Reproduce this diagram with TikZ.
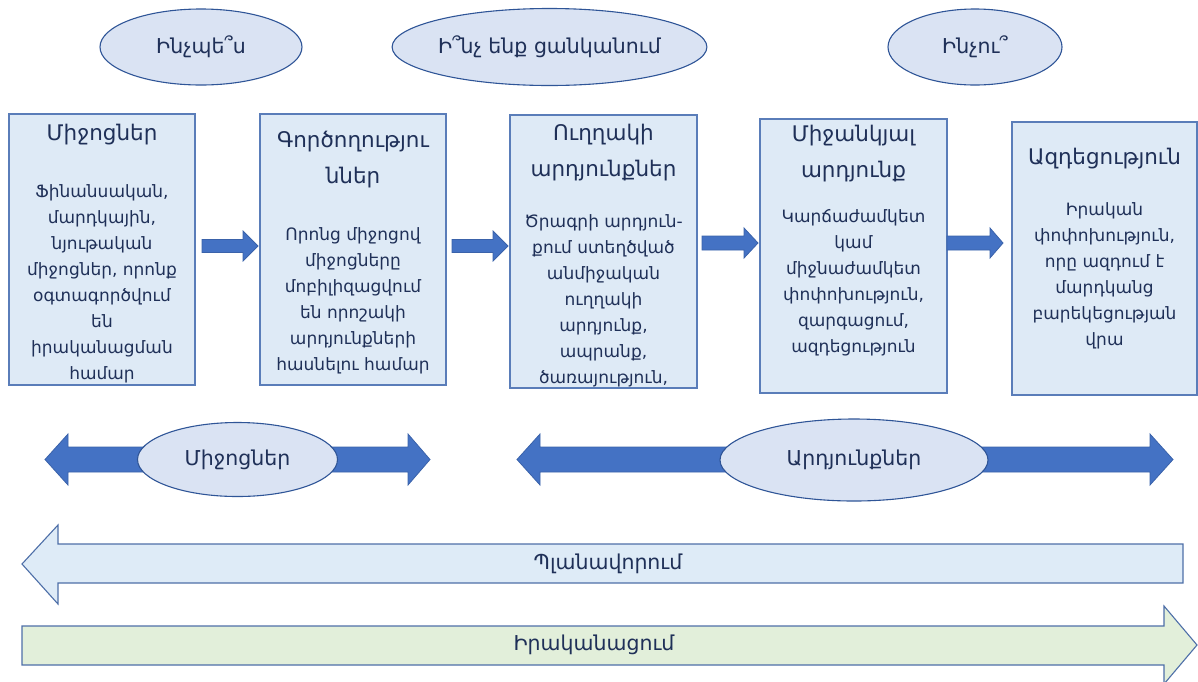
\documentclass[tikz,border=0pt]{standalone}
\usepackage{fontspec}
\setmainfont{DejaVu Sans}
\usetikzlibrary{shapes.geometric,calc}

\definecolor{boxfill}{HTML}{DEEAF6}
\definecolor{boxline}{HTML}{5A7DB9}
\definecolor{ellfill}{HTML}{DAE3F3}
\definecolor{ellline}{HTML}{2F5597}
\definecolor{arrfill}{HTML}{4472C4}
\definecolor{arrline}{HTML}{3A62AA}
\definecolor{planfill}{HTML}{DEEBF7}
\definecolor{realfill}{HTML}{E2EFDA}
\definecolor{bigline}{HTML}{4E6FA8}
\definecolor{txt}{HTML}{1F3058}

\tikzset{
  ovalnode/.style={ellipse, draw=ellline, line width=1.1pt, fill=ellfill,
    inner sep=0pt, text=txt, font=\fontsize{20.5}{24}\selectfont},
  stepbox/.style={rectangle, draw=boxline, line width=1.4pt, fill=boxfill, inner sep=0pt},
  boxtitle/.style={align=center, inner sep=0pt, text=txt, font=\fontsize{21.5}{36}\selectfont},
  boxbody/.style={align=center, inner sep=0pt, text=txt, font=\fontsize{17}{26}\selectfont},
  blockarrow/.style={fill=arrfill, draw=arrline, line width=0.8pt, line join=miter},
  bigarrow/.style={draw=bigline, line width=1.1pt, line join=miter},
  biglabel/.style={inner sep=0pt, text=txt, font=\fontsize{20.5}{24}\selectfont}
}

\begin{document}
\begin{tikzpicture}[x=1pt, y=-1pt]
\useasboundingbox (0,0) rectangle (1198,681);

% questions on top
\node[ovalnode, minimum width=202, minimum height=76] (how)  at (201,47)   {Ինչպե՞ս};
\node[ovalnode, minimum width=313, minimum height=77] (what) at (549.5,47) {Ի՞նչ ենք ցանկանում};
\node[ovalnode, minimum width=174, minimum height=76] (why)  at (975,47)   {Ինչու՞};

% chain of stages
\node[stepbox, minimum width=186, minimum height=271] (b1) at (102,249.5)  {};
\node[stepbox, minimum width=186, minimum height=271] (b2) at (353,249.5)  {};
\node[stepbox, minimum width=187, minimum height=273] (b3) at (603.5,251.5) {};
\node[stepbox, minimum width=187, minimum height=274] (b4) at (853.5,256)  {};
\node[stepbox, minimum width=185, minimum height=273] (b5) at (1104.5,258.5) {};

% box 1
\node[boxtitle] (t1) at (b1 |- 0,135) {Միջոցներ};
\node[boxbody, anchor=north] (d1) at (b1 |- 0,184)
  {Ֆինանսական,\\մարդկային,\\նյութական\\միջոցներ, որոնք\\օգտագործվում\\են\\իրականացման\\համար};
% box 2
\node[boxtitle, anchor=north] (t2) at (b2 |- 0,131) {Գործողությու\\ններ};
\node[boxbody, anchor=north] (d2) at (b2 |- 0,227)
  {Որոնց միջոցով\\միջոցները\\մոբիլիզացվում\\են որոշակի\\արդյունքների\\հասնելու համար};
% box 3
\node[boxtitle, anchor=north] (t3) at (b3 |- 0,124) {Ուղղակի\\արդյունքներ};
\node[boxbody, anchor=north] (d3) at (b3 |- 0,214)
  {Ծրագրի արդյուն-\\քում ստեղծված\\անմիջական\\ուղղակի\\արդյունք,\\ապրանք,\\ծառայություն,};
% box 4
\node[boxtitle, anchor=north] (t4) at (b4 |- 0,125) {Միջանկյալ\\արդյունք};
\node[boxbody, anchor=north] (d4) at (b4 |- 0,209)
  {Կարճաժամկետ\\կամ\\միջնաժամկետ\\փոփոխություն,\\զարգացում,\\ազդեցություն};
% box 5
\node[boxtitle] (t5) at (b5 |- 0,159) {Ազդեցություն};
\node[boxbody, anchor=north] (d5) at (b5 |- 0,202)
  {Իրական\\փոփոխություն,\\որը ազդում է\\մարդկանց\\բարեկեցության\\վրա};

% arrows between stages
\path[blockarrow] (202,239.5) -- (243,239.5) -- (243,231) -- (258,246) -- (243,261) -- (243,252.5) -- (202,252.5) -- cycle;
\path[blockarrow] (452,239.5) -- (493,239.5) -- (493,231) -- (508,246) -- (493,261) -- (493,252.5) -- (452,252.5) -- cycle;
\path[blockarrow] (702,236) -- (744,236) -- (744,228) -- (758,243) -- (744,258) -- (744,250) -- (702,250) -- cycle;
\path[blockarrow] (947,236) -- (990,236) -- (990,228) -- (1003,243) -- (990,258) -- (990,250) -- (947,250) -- cycle;

% two-headed spans
\path[blockarrow] (45,459.5) -- (68,434) -- (68,447) -- (408,447) -- (408,434) -- (430,459.5)
  -- (408,485) -- (408,472) -- (68,472) -- (68,485) -- cycle;
\path[blockarrow] (517,459.5) -- (540,434) -- (540,447) -- (1150,447) -- (1150,434) -- (1173,459.5)
  -- (1150,485) -- (1150,472) -- (540,472) -- (540,485) -- cycle;
\node[ovalnode, minimum width=200, minimum height=74] (means)   at (237.5,459.5) {Միջոցներ};
\node[ovalnode, minimum width=268, minimum height=82] (results) at (854,460)     {Արդյունքներ};

% planning and implementation
\path[bigarrow, fill=planfill] (22,564) -- (58,525) -- (58,544) -- (1183,544) -- (1183,583)
  -- (58,583) -- (58,604) -- cycle;
\node[biglabel] (plan) at (608,564) {Պլանավորում};
\path[bigarrow, fill=realfill] (22,626) -- (1164,626) -- (1164,606) -- (1197,645) -- (1164,684)
  -- (1164,665) -- (22,665) -- cycle;
\node[biglabel] (impl) at (594,645) {Իրականացում};
\end{tikzpicture}
\end{document}
